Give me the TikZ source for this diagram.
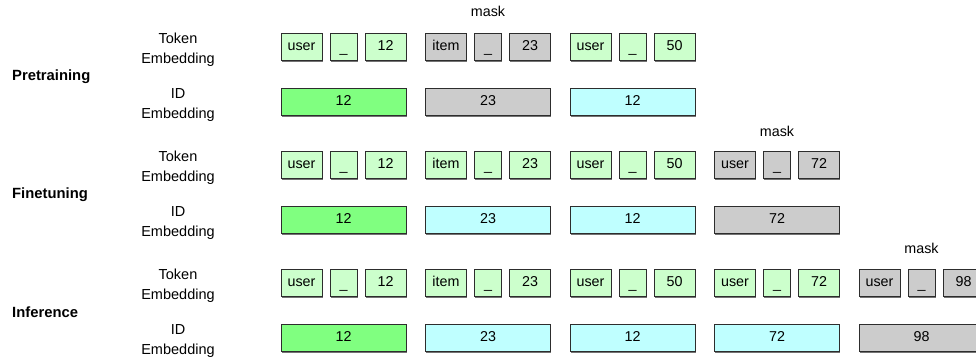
\documentclass[tikz,border=0pt]{standalone}
\usepackage{fontspec}
\setmainfont{Liberation Sans}
\usetikzlibrary{shadows}
\definecolor{tokgreen}{RGB}{204,255,204}
\definecolor{idgreen}{RGB}{128,255,128}
\definecolor{idcyan}{RGB}{191,255,255}
\definecolor{maskgray}{RGB}{204,204,204}
\definecolor{edgecol}{RGB}{45,45,45}
\tikzset{
  box/.style={draw=edgecol, line width=0.8pt, anchor=north west, minimum height=27pt,
    inner sep=0pt, outer sep=0pt, text height=10.5pt, text depth=3pt,
    font=\fontsize{14.3}{17}\selectfont,
    drop shadow={shadow xshift=0.9pt, shadow yshift=-1.6pt, fill=black!55, opacity=1}},
  wordbox/.style={box, minimum width=41pt},
  sepbox/.style={box, minimum width=27pt},
  numbox/.style={box, minimum width=41pt},
  idbox/.style={box, minimum width=125pt},
  rowlabel/.style={align=center, font=\fontsize{14.5}{19.5}\selectfont},
  phase/.style={anchor=west, inner sep=0pt, font=\bfseries\fontsize{14.8}{17}\selectfont},
  masklabel/.style={font=\fontsize{14.3}{17}\selectfont},
}
\newcommand\TokGroup[6]{%
  \node[wordbox, fill=#6] (#1w) at (#2,#3) {#4};
  \node[sepbox, fill=#6] (#1s) at (#2+49,#3) {\raisebox{-2pt}{\_}};
  \node[numbox, fill=#6] (#1n) at (#2+84,#3) {#5};
}
\newcommand\IdBox[5]{%
  \node[idbox, fill=#5] (#1) at (#2,#3) {#4};
}
\begin{document}
\begin{tikzpicture}[x=1pt,y=-1pt]
\useasboundingbox (0,0) rectangle (976,360);

% ---------- Pretraining ----------
\node[phase] (pre) at (12,76.5) {Pretraining};
\node[rowlabel] (preTokL) at (178,49.5) {Token\\Embedding};
\node[rowlabel] (preIdL) at (178,105) {ID\\Embedding};
\TokGroup{pA}{281}{33}{user}{12}{tokgreen}
\TokGroup{pB}{425.5}{33}{item}{23}{maskgray}
\TokGroup{pC}{570}{33}{user}{50}{tokgreen}
\IdBox{pAi}{281}{88}{12}{idgreen}
\IdBox{pBi}{425.5}{88}{23}{maskgray}
\IdBox{pCi}{570}{88}{12}{idcyan}
\node[masklabel] (pMask) at (488,11.5) {mask};

% ---------- Finetuning ----------
\node[phase] (fin) at (12,194.5) {Finetuning};
\node[rowlabel] (finTokL) at (178,167.5) {Token\\Embedding};
\node[rowlabel] (finIdL) at (178,223) {ID\\Embedding};
\TokGroup{fA}{281}{151}{user}{12}{tokgreen}
\TokGroup{fB}{425.5}{151}{item}{23}{tokgreen}
\TokGroup{fC}{570}{151}{user}{50}{tokgreen}
\TokGroup{fD}{714.5}{151}{user}{72}{maskgray}
\IdBox{fAi}{281}{206}{12}{idgreen}
\IdBox{fBi}{425.5}{206}{23}{idcyan}
\IdBox{fCi}{570}{206}{12}{idcyan}
\IdBox{fDi}{714.5}{206}{72}{maskgray}
\node[masklabel] (fMask) at (777,131.5) {mask};

% ---------- Inference ----------
\node[phase] (inf) at (12,312) {Inference};
\node[rowlabel] (infTokL) at (178,285.5) {Token\\Embedding};
\node[rowlabel] (infIdL) at (178,341) {ID\\Embedding};
\TokGroup{iA}{281}{269}{user}{12}{tokgreen}
\TokGroup{iB}{425.5}{269}{item}{23}{tokgreen}
\TokGroup{iC}{570}{269}{user}{50}{tokgreen}
\TokGroup{iD}{714.5}{269}{user}{72}{tokgreen}
\TokGroup{iE}{859}{269}{user}{98}{maskgray}
\IdBox{iAi}{281}{324}{12}{idgreen}
\IdBox{iBi}{425.5}{324}{23}{idcyan}
\IdBox{iCi}{570}{324}{12}{idcyan}
\IdBox{iDi}{714.5}{324}{72}{idcyan}
\IdBox{iEi}{859}{324}{98}{maskgray}
\node[masklabel] (iMask) at (921.5,248) {mask};
\end{tikzpicture}
\end{document}
